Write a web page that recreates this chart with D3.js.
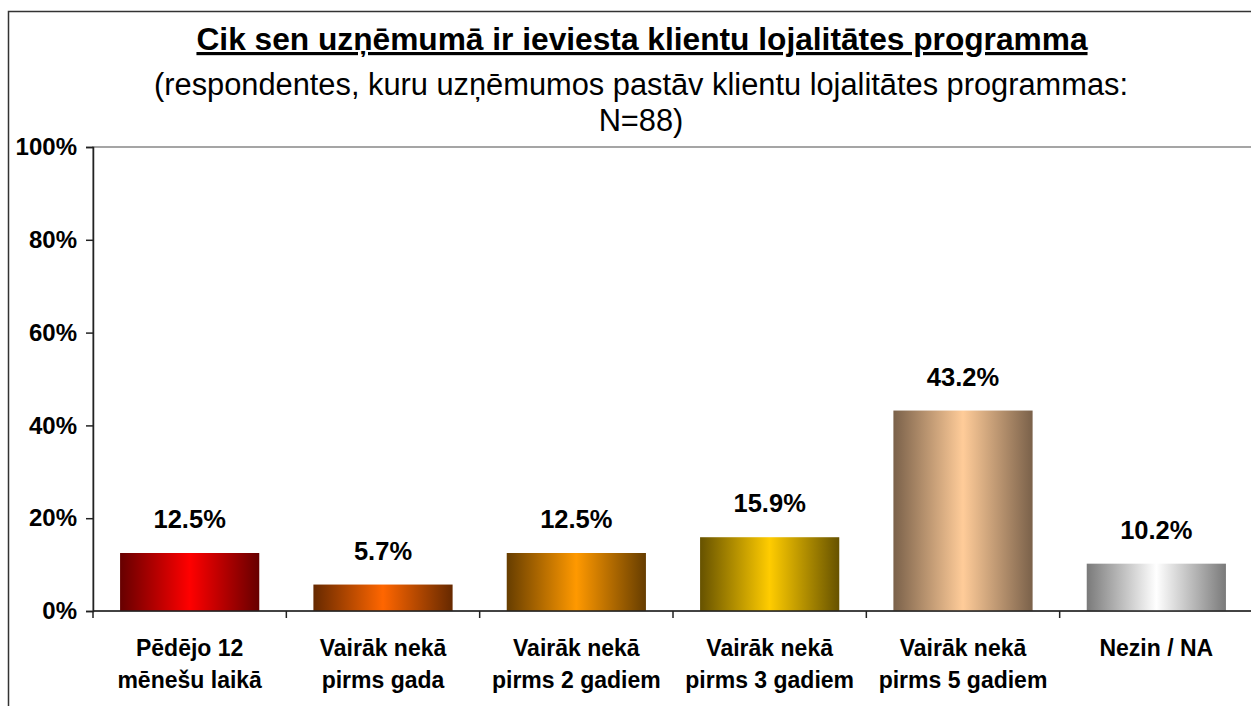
<!DOCTYPE html>
<html>
<head>
<meta charset="utf-8">
<script src="https://cdn.jsdelivr.net/npm/d3@7"></script>
<style>
  body { margin: 0; background: #fff; }
  text { font-family: "Liberation Sans", Arial, sans-serif; }
</style>
</head>
<body>
<div id="chart"></div>
<script>
const width = 1251;
const height = 706;

const categories = [
  ['Pēdējo 12', 'mēnešu laikā'],
  ['Vairāk nekā', 'pirms gada'],
  ['Vairāk nekā', 'pirms 2 gadiem'],
  ['Vairāk nekā', 'pirms 3 gadiem'],
  ['Vairāk nekā', 'pirms 5 gadiem'],
  ['Nezin / NA']
];
const values = [12.5, 5.7, 12.5, 15.9, 43.2, 10.2];
const yTicks = [0, 20, 40, 60, 80, 100];
// edge colour, centre colour for each bar
const barColors = [
  ['#660000', '#ff0000'],
  ['#662900', '#ff6600'],
  ['#663d00', '#ff9900'],
  ['#665200', '#ffcc00'],
  ['#7a614a', '#ffcc99'],
  ['#7a7a7a', '#ffffff']
];

const plot = { left: 93, right: 1253, top: 147, bottom: 611 };

const svg = d3.select('#chart')
  .append('svg')
  .attr('width', width)
  .attr('height', height);

// outer chart border
svg.append('rect')
  .attr('x', 8.5).attr('y', 11.5)
  .attr('width', 1300).attr('height', 800)
  .attr('fill', 'none')
  .attr('stroke', '#333')
  .attr('stroke-width', 1.5);

const x = d3.scaleBand()
  .domain(d3.range(values.length))
  .range([plot.left, plot.right])
  .paddingInner(0.28)
  .paddingOuter(0.14);

const y = d3.scaleLinear()
  .domain([0, 100])
  .range([plot.bottom, plot.top]);

// plot area frame (top/right in gray)
svg.append('rect')
  .attr('x', plot.left).attr('y', plot.top)
  .attr('width', plot.right - plot.left)
  .attr('height', plot.bottom - plot.top)
  .attr('fill', 'none')
  .attr('stroke', '#888')
  .attr('stroke-width', 1.5);

const defs = svg.append('defs');
barColors.forEach(([edge, mid], i) => {
  const g = defs.append('linearGradient')
    .attr('id', `grad${i}`)
    .attr('x1', '0%').attr('x2', '100%')
    .attr('y1', '0%').attr('y2', '0%');
  g.append('stop').attr('offset', '0%').attr('stop-color', edge);
  g.append('stop').attr('offset', '50%').attr('stop-color', mid);
  g.append('stop').attr('offset', '100%').attr('stop-color', edge);
});

svg.selectAll('rect.bar')
  .data(values)
  .enter().append('rect')
  .attr('class', 'bar')
  .attr('x', (d, i) => x(i))
  .attr('y', (d) => y(d))
  .attr('width', x.bandwidth())
  .attr('height', (d) => y(0) - y(d))
  .attr('fill', (d, i) => `url(#grad${i})`);

svg.selectAll('text.value')
  .data(values)
  .enter().append('text')
  .attr('class', 'value')
  .attr('x', (d, i) => x(i) + x.bandwidth() / 2)
  .attr('y', (d) => y(d) - 25)
  .attr('text-anchor', 'middle')
  .attr('font-size', 25.5)
  .attr('font-weight', 'bold')
  .text((d) => `${d.toFixed(1)}%`);

// y axis
const yAxis = svg.append('g')
  .attr('transform', `translate(${plot.left},0)`)
  .call(d3.axisLeft(y).tickValues(yTicks).tickFormat((d) => `${d}%`).tickSize(7).tickPadding(9));
yAxis.select('.domain').attr('stroke', '#222').attr('stroke-width', 1.5);
yAxis.selectAll('.tick line').attr('stroke', '#222').attr('stroke-width', 1.5);
yAxis.selectAll('.tick text')
  .attr('font-size', 24)
  .attr('font-weight', 'bold')
  .attr('fill', '#000')
  .style('font-family', '"Liberation Sans", Arial, sans-serif');

// x axis line and boundary ticks
const step = x.step();
const boundaries = d3.range(values.length + 1).map((i) => plot.left + i * step);
svg.append('line')
  .attr('x1', plot.left).attr('x2', plot.right)
  .attr('y1', plot.bottom).attr('y2', plot.bottom)
  .attr('stroke', '#222').attr('stroke-width', 1.5);
svg.selectAll('line.xtick')
  .data(boundaries)
  .enter().append('line')
  .attr('class', 'xtick')
  .attr('x1', (d) => d).attr('x2', (d) => d)
  .attr('y1', plot.bottom).attr('y2', plot.bottom + 7)
  .attr('stroke', '#222').attr('stroke-width', 1.5);

const xLabels = svg.selectAll('text.xlabel')
  .data(categories)
  .enter().append('text')
  .attr('class', 'xlabel')
  .attr('text-anchor', 'middle')
  .attr('font-size', 23)
  .attr('font-weight', 'bold');
xLabels.selectAll('tspan')
  .data((d, i) => d.map((line) => ({ line, i })))
  .enter().append('tspan')
  .attr('x', (d) => x(d.i) + x.bandwidth() / 2)
  .attr('y', (d, j) => 656 + j * 32)
  .text((d) => d.line);

// titles
svg.append('text')
  .attr('x', 642).attr('y', 50)
  .attr('text-anchor', 'middle')
  .attr('font-size', 31.7)
  .attr('font-weight', 'bold')
  .attr('text-decoration', 'underline')
  .text('Cik sen uzņēmumā ir ieviesta klientu lojalitātes programma');

const subtitle = ['(respondentes, kuru uzņēmumos pastāv klientu lojalitātes programmas:', 'N=88)'];
svg.append('text')
  .attr('text-anchor', 'middle')
  .attr('font-size', 30.8)
  .selectAll('tspan')
  .data(subtitle)
  .enter().append('tspan')
  .attr('x', 641)
  .attr('y', (d, i) => 95 + i * 36)
  .text((d) => d);
</script>
</body>
</html>
